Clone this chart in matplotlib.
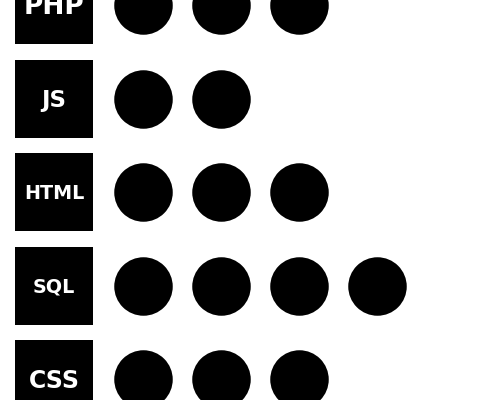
import matplotlib
matplotlib.use("Agg")
import matplotlib.pyplot as plt

# skill ratings, one row per language
languages = ["PHP", "JS", "HTML", "SQL", "CSS"]
ratings = [3, 2, 3, 4, 3]

# label font sizes (the original uses a different size per badge)
label_sizes = [19, 16.5, 13.8, 13.8, 17]

# layout: x is in "dot slots", y is in rows
PX_PER_COL = 78.0
PX_PER_ROW = 93.5
FIRST_DOT_PX = 143.0
FIRST_ROW_PX = 5.0
BOX_X = -0.14
BOX_PT = 78 * 0.72
DOT_PT = 58.5 * 0.72

fig = plt.figure(figsize=(5, 4), dpi=100)
ax = fig.add_axes([0, 0, 1, 1])
ax.set_xlim((0 - FIRST_DOT_PX) / PX_PER_COL + 1, (500 - FIRST_DOT_PX) / PX_PER_COL + 1)
ax.set_ylim((400 - FIRST_ROW_PX) / PX_PER_ROW, (0 - FIRST_ROW_PX) / PX_PER_ROW)
ax.axis("off")

for i, (lang, n) in enumerate(zip(languages, ratings)):
    # black badge with the language name
    ax.scatter([BOX_X], [i], s=BOX_PT ** 2, marker="s", color="black", linewidths=0)
    ax.text(BOX_X, i + 0.02, lang, color="white", fontsize=label_sizes[i], fontweight="bold",
            family=["DejaVu Sans"], ha="center", va="center")
    # one dot per rating point
    cols = list(range(1, n + 1))
    ax.scatter(cols, [i] * n, s=DOT_PT ** 2, marker="o", color="black", linewidths=0)

fig.savefig("out.png", dpi=100, facecolor="white")
